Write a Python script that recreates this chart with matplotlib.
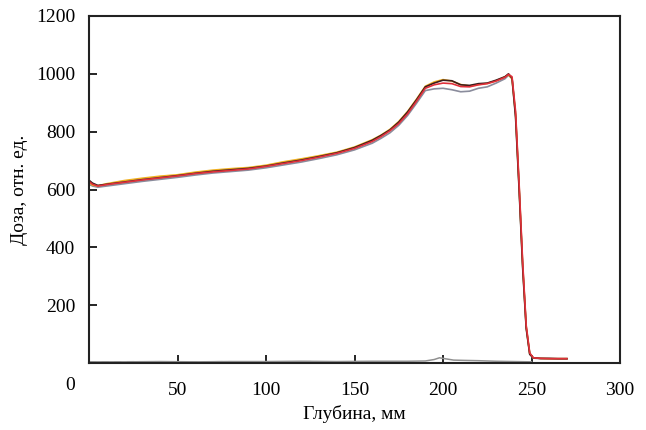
import matplotlib
matplotlib.use("Agg")
import matplotlib.pyplot as plt

plt.rcParams['font.family'] = ['Liberation Serif', 'DejaVu Serif']

depth = [0, 2, 5, 10, 20, 30, 40, 50, 60, 70, 80, 90, 100, 110, 120, 130, 140, 150,
         160, 165, 170, 175, 180, 185, 190, 195, 200, 205, 210, 215, 220, 225, 230,
         235, 237, 239, 241, 243, 245, 247, 249, 251, 255, 260, 265, 270]

dose_black = [632, 622, 614, 618, 626, 634, 641, 648, 656, 663, 668, 673, 681, 692, 702, 714, 727, 745,
              770, 787, 806, 833, 868, 910, 955, 968, 978, 976, 962, 960, 966, 968, 978,
              990, 1000, 985, 850, 600, 330, 120, 30, 18, 16, 16, 15, 15]
dose_red = [628, 618, 612, 617, 625, 633, 640, 647, 655, 661, 666, 671, 680, 690, 700, 712, 725, 742,
            766, 783, 803, 828, 862, 905, 950, 962, 968, 966, 956, 955, 962, 966, 975,
            988, 998, 990, 870, 620, 350, 130, 35, 18, 16, 15, 15, 15]
dose_orange = [625, 615, 613, 620, 631, 639, 646, 651, 660, 667, 672, 676, 684, 696, 706, 717, 729, 747,
               772, 788, 808, 835, 870, 912, 957, 972, 980, 975, 963, 958, 963, 967, 976,
               990, 997, 982, 860, 610, 340, 125, 32, 18, 16, 15, 15, 15]
dose_gray = [618, 612, 608, 612, 620, 628, 635, 642, 650, 657, 662, 667, 675, 685, 695, 707, 720, 737,
             760, 777, 796, 822, 856, 898, 942, 948, 950, 945, 938, 940, 950, 955, 968,
             983, 995, 985, 860, 610, 340, 125, 32, 17, 15, 14, 14, 14]

bg_depth = [0, 20, 40, 60, 80, 100, 120, 140, 160, 180, 190, 195, 198, 202, 206, 212, 220, 230, 240, 250]
bg_dose = [4, 4, 5, 4, 5, 5, 6, 5, 6, 6, 7, 12, 18, 14, 10, 9, 8, 6, 5, 4]
bg2_depth = [0, 25, 50, 75, 100, 125, 150]
bg2_dose = [3, 4, 3, 4, 3, 4, 3]

x_ticks = [50, 100, 150, 200, 250, 300]
y_ticks = [200, 400, 600, 800, 1000, 1200]

fig = plt.figure(figsize=(6.46, 4.30), dpi=100)
ax = fig.add_axes([89/646, 67/430, 531/646, 347/430])

ax.plot(bg2_depth, bg2_dose, color='#a8a8a8', lw=1.3, ls=(0, (4, 3)))
ax.plot(bg_depth, bg_dose, color='#909090', lw=1.1)
ax.plot(depth, dose_gray, color='#8a8c9c', lw=1.2)
ax.plot(depth, dose_orange, color='#f0b020', lw=1.2)
ax.plot(depth, dose_black, color='#3a1c1c', lw=1.2)
ax.plot(depth, dose_red, color='#e0303a', lw=1.2)

ax.set_xlim(0, 300)
ax.set_ylim(0, 1200)
ax.set_xticks(x_ticks)
ax.set_yticks(y_ticks)
ax.tick_params(direction='in', length=6, width=1.2, labelsize=14, colors='black', pad=12)
ax.tick_params(axis='y', pad=10)
ax.tick_params(axis='x', pad=14)
for s in ax.spines.values():
    s.set_linewidth(1.5)
    s.set_color('#222222')

fig.text(70/646, 1 - 385/430, '0', fontsize=14, ha='center', va='center')
ax.set_xlabel('Глубина, мм', fontsize=14, labelpad=4)
ax.set_ylabel('Доза, отн. ед.', fontsize=14, labelpad=6)

fig.savefig('out.png', dpi=100)
